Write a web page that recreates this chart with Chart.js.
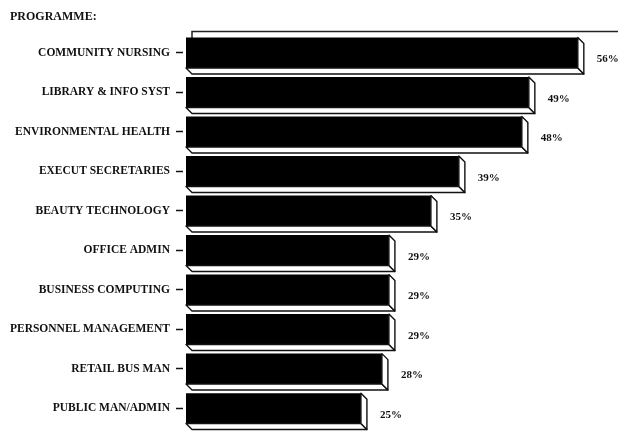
<!DOCTYPE html>
<html>
<head>
<meta charset="utf-8">
<script src="https://cdn.jsdelivr.net/npm/chart.js@4/dist/chart.umd.min.js"></script>
<style>
  html, body { margin: 0; padding: 0; background: #fff; }
  canvas { display: block; }
</style>
</head>
<body>
<canvas id="chart" width="618" height="441"></canvas>
<script>
// Programmes and their percentages
const programmes = [
  'COMMUNITY NURSING',
  'LIBRARY & INFO SYST',
  'ENVIRONMENTAL HEALTH',
  'EXECUT SECRETARIES',
  'BEAUTY TECHNOLOGY',
  'OFFICE ADMIN',
  'BUSINESS COMPUTING',
  'PERSONNEL MANAGEMENT',
  'RETAIL BUS MAN',
  'PUBLIC MAN/ADMIN'
];
const percentages = [56, 49, 48, 39, 35, 29, 29, 29, 28, 25];
const axisTitle = 'PROGRAMME:';

const SERIF = '"Liberation Serif", "Times New Roman", serif';
const DEPTH_X = 6, DEPTH_Y = 6;

// Extruded white side and bottom faces, the back edge line and value labels
const depthBars = {
  id: 'depthBars',
  beforeDatasetsDraw(chart) {
    const { ctx, chartArea } = chart;
    const topY = chartArea.top - 1.5;
    const startX = chartArea.left + DEPTH_X;
    ctx.save();
    ctx.strokeStyle = '#222';
    ctx.lineWidth = 1.5;
    ctx.beginPath();
    ctx.moveTo(startX, chartArea.top + 5);
    ctx.lineTo(startX, topY);
    ctx.lineTo(chart.width, topY);
    ctx.stroke();
    ctx.restore();
  },
  afterDatasetsDraw(chart) {
    const { ctx } = chart;
    const meta = chart.getDatasetMeta(0);
    const values = chart.data.datasets[0].data;
    ctx.save();
    ctx.lineJoin = 'round';
    meta.data.forEach((bar, i) => {
      const { x, y, base, height } = bar.getProps(['x', 'y', 'base', 'height'], true);
      const x0 = base, x1 = x;
      const y0 = y - height / 2, y1 = y + height / 2;
      ctx.fillStyle = '#fff';
      ctx.strokeStyle = '#111';
      ctx.lineWidth = 1.4;
      // bottom face
      ctx.beginPath();
      ctx.moveTo(x0, y1);
      ctx.lineTo(x1, y1);
      ctx.lineTo(x1 + DEPTH_X, y1 + DEPTH_Y);
      ctx.lineTo(x0 + DEPTH_X, y1 + DEPTH_Y);
      ctx.closePath();
      ctx.fill();
      ctx.stroke();
      // right face
      ctx.beginPath();
      ctx.moveTo(x1, y0);
      ctx.lineTo(x1 + DEPTH_X, y0 + DEPTH_Y);
      ctx.lineTo(x1 + DEPTH_X, y1 + DEPTH_Y);
      ctx.lineTo(x1, y1);
      ctx.closePath();
      ctx.fill();
      ctx.stroke();
      // value label
      ctx.fillStyle = '#111';
      ctx.font = 'bold 11px ' + SERIF;
      ctx.textAlign = 'left';
      ctx.textBaseline = 'middle';
      ctx.fillText(values[i] + '%', x1 + 19, y + 6.5);
    });
    ctx.restore();
  }
};

new Chart(document.getElementById('chart'), {
  type: 'bar',
  data: {
    labels: programmes,
    datasets: [{
      data: percentages,
      backgroundColor: '#000',
      borderWidth: 0,
      barPercentage: 0.77,
      categoryPercentage: 1
    }]
  },
  options: {
    indexAxis: 'y',
    responsive: false,
    animation: false,
    devicePixelRatio: 1,
    layout: { padding: { left: 10, right: 1, top: 0, bottom: 5 } },
    plugins: {
      legend: { display: false },
      tooltip: { enabled: false },
      title: {
        display: true,
        text: axisTitle,
        align: 'start',
        color: '#111',
        font: { family: SERIF, size: 12, weight: 'bold', lineHeight: 1.2 },
        padding: { top: 10, bottom: 8.6 }
      }
    },
    scales: {
      x: {
        display: false,
        min: 0,
        max: 61.6
      },
      y: {
        afterFit(scale) { scale.width = 176; },
        border: { display: false },
        grid: {
          display: true,
          offset: false,
          drawOnChartArea: false,
          drawTicks: true,
          tickLength: 10,
          tickColor: '#111',
          tickWidth: 1.5,
          tickBorderDash: [7, 20]
        },
        ticks: {
          color: '#111',
          padding: 6,
          font: { family: SERIF, size: 11.5, weight: 'bold' }
        }
      }
    }
  },
  plugins: [depthBars]
});
</script>
</body>
</html>
